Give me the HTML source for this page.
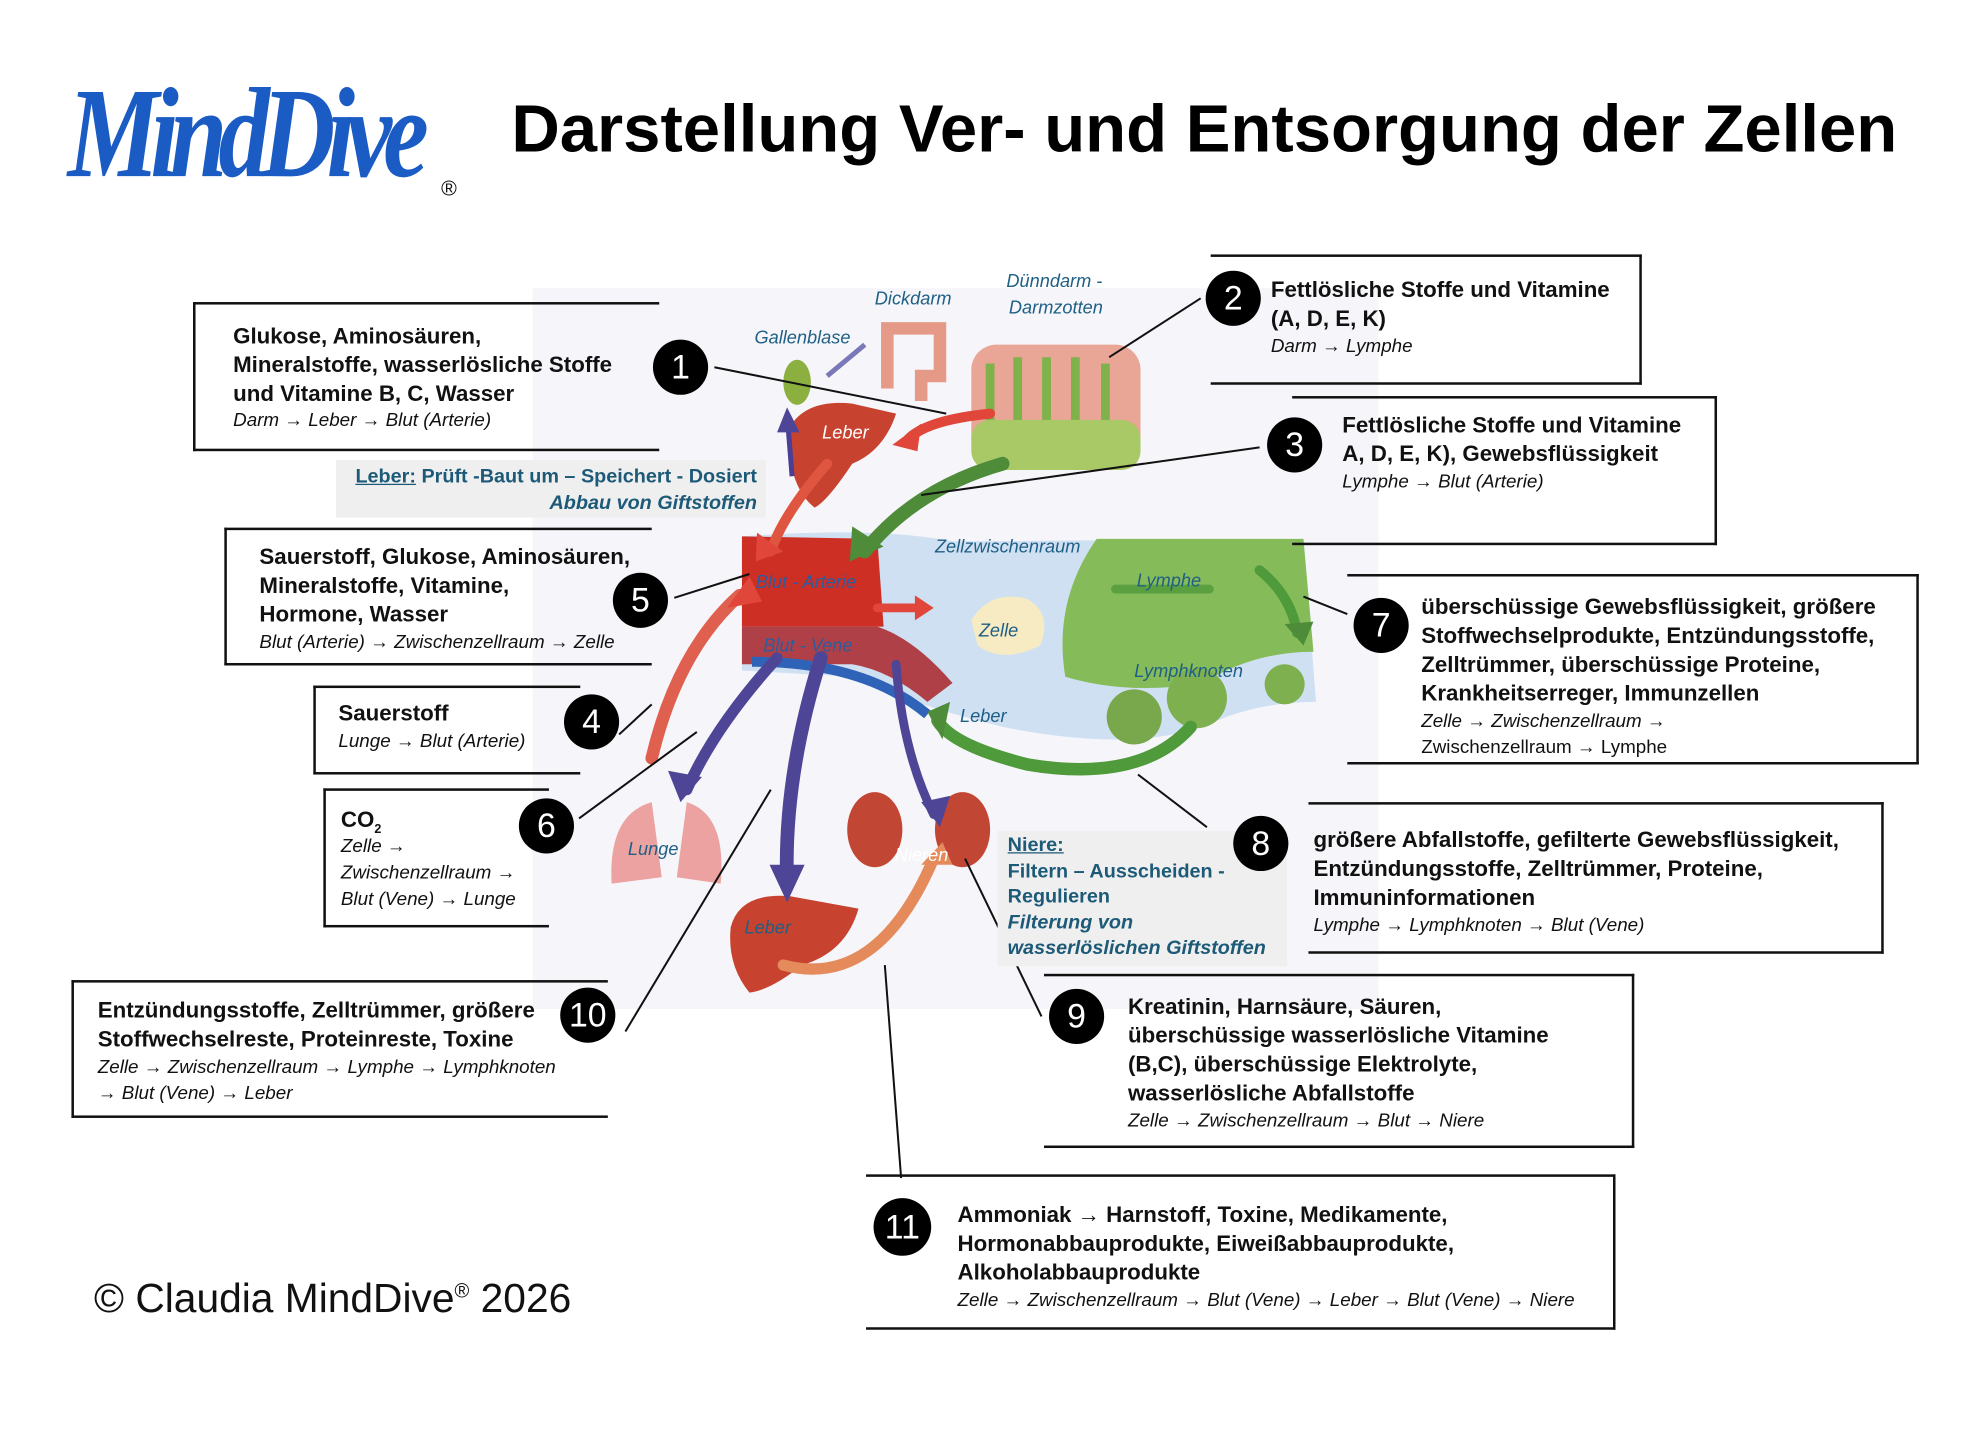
<!DOCTYPE html>
<html><head><meta charset="utf-8">
<style>
html,body{margin:0;padding:0;background:#fff;}
body{width:1965px;height:1436px;overflow:hidden;position:relative;}
#w{position:absolute;left:0;top:0;width:1560px;height:1140px;transform:scale(1.2533);transform-origin:0 0;font-family:"Liberation Sans",sans-serif;}
.a{position:absolute;white-space:nowrap;}
.b{font-weight:bold;font-size:17.8px;color:#111;line-height:23px;}
.i{font-style:italic;font-size:15px;color:#111;line-height:21px;}
.box{position:absolute;border-top:2px solid #111;border-bottom:2px solid #111;box-sizing:border-box;}
.L{border-left:2px solid #111;}
.R{border-right:2px solid #111;}
.c{position:absolute;width:44px;height:44px;border-radius:50%;background:#000;color:#fff;font-size:27px;text-align:center;line-height:44px;font-weight:normal;}
.lab{position:absolute;white-space:nowrap;font-style:italic;font-size:14.5px;color:#1f5f85;}
.t{color:#1d5a78;font-size:15.8px;font-weight:bold;line-height:20.5px;}
</style></head><body><div id="w">

<div class="a" style="left:54px;top:48px;font-family:'Liberation Serif',serif;font-style:italic;font-weight:bold;font-size:82px;color:#1a5bc4;letter-spacing:-7px;transform:scaleY(1.25);transform-origin:0 0;">MindDive</div>
<div class="a" style="left:352px;top:141px;font-size:17px;color:#111;">®</div>
<div class="a" style="left:408px;top:73px;font-weight:bold;font-size:53.5px;color:#000;">Darstellung Ver- und Entsorgung der Zellen</div>

<svg style="position:absolute;left:0;top:0" width="1560" height="1140">
<rect x="425" y="230" width="675" height="575" fill="#f6f6fa"/>
<rect x="775" y="275" width="135" height="95" rx="20" fill="#e9a596"/>
<path d="M790 290 v60 M812 285 v70 M835 285 v70 M858 285 v70 M882 290 v60" stroke="#7fb24a" stroke-width="7"/>
<rect x="775" y="335" width="135" height="40" rx="15" fill="#a9c866"/>
<path d="M708 310 V262 H750 V300 H735 V320" fill="none" stroke="#e59a88" stroke-width="10"/>
<ellipse cx="636" cy="305" rx="11" ry="18" fill="#8bb040"/>
<path d="M660 300 L690 275" stroke="#7a78b8" stroke-width="4"/>
<path d="M628 345 Q640 318 680 322 L715 330 Q705 360 680 370 Q660 400 650 405 Q630 390 628 345Z" fill="#c7432f"/>
<path d="M632 380 L628 330" stroke="#4b3f95" stroke-width="4"/>
<path d="M592 428 Q700 420 760 432 L1040 430 L1050 560 Q1000 560 960 580 Q900 600 800 580 Q720 560 680 540 L592 535Z" fill="#cfe0f3"/>
<path d="M592 428 L700 430 L705 500 L592 500Z" fill="#cd2f25"/>
<path d="M592 500 L700 500 Q730 510 760 545 L740 560 Q710 535 680 530 L592 530Z" fill="#b04048"/>
<path d="M600 528 Q690 528 740 570" stroke="#2f63b8" stroke-width="8" fill="none"/>
<path d="M875 430 L1040 430 L1048 520 Q1000 520 960 545 Q900 555 850 540 Q840 480 875 430Z" fill="#86bb5a"/>
<path d="M775 495 Q790 470 820 478 Q840 490 830 515 Q800 530 780 515Z" fill="#f7ebc3"/>
<circle cx="905" cy="572" r="22" fill="#79a84c"/><circle cx="955" cy="557" r="24" fill="#7fb050"/><circle cx="1025" cy="546" r="16" fill="#7fb050"/>
<path d="M488 705 Q485 650 520 640 L528 700Z M540 700 L548 640 Q580 650 575 705Z" fill="#eba2a0"/>
<ellipse cx="698" cy="662" rx="22" ry="30" fill="#c24634"/><ellipse cx="768" cy="662" rx="22" ry="30" fill="#c24634"/>
<path d="M583 740 Q590 712 630 715 L685 725 Q675 760 640 770 Q615 790 598 792 Q580 770 583 740Z" fill="#c7432f"/>
<g fill="none" stroke-linecap="round">
<path d="M790 330 Q740 335 725 350" stroke="#e0463a" stroke-width="8"/>
<path d="M660 370 Q625 410 615 440" stroke="#e0553f" stroke-width="8"/>
<path d="M800 370 Q730 390 690 440" stroke="#4f8c3a" stroke-width="11"/>
<path d="M520 605 Q540 520 590 475" stroke="#e06050" stroke-width="10"/>
<path d="M620 525 Q570 580 548 630" stroke="#4f4596" stroke-width="9"/>
<path d="M655 525 Q625 620 628 705" stroke="#4f4596" stroke-width="11"/>
<path d="M715 530 Q720 600 745 650" stroke="#4f4596" stroke-width="7"/>
<path d="M950 580 Q910 625 820 610 Q760 595 748 575" stroke="#4f9a3a" stroke-width="10"/>
<path d="M1005 455 Q1030 475 1035 505" stroke="#4f9a3a" stroke-width="8"/>
<path d="M625 770 Q700 790 745 685" stroke="#e58a5a" stroke-width="9"/>
<path d="M700 485 L735 485" stroke="#e0463a" stroke-width="7"/>
<path d="M890 470 L965 470" stroke="#5aa040" stroke-width="7"/>
</g>
<g fill="#e0463a"><polygon points="712,355 735,338 732,360"/><polygon points="603,448 604,425 625,440"/><polygon points="598,460 580,485 608,480"/><polygon points="745,485 730,475 730,495"/></g>
<g fill="#4f8c3a"><polygon points="678,448 680,420 705,436"/><polygon points="740,568 758,560 752,590"/><polygon points="1040,515 1025,498 1048,496"/></g>
<g fill="#4f4596"><polygon points="543,640 533,615 560,620"/><polygon points="628,720 614,690 642,690"/><polygon points="750,660 735,640 758,635"/><polygon points="628,325 620,345 638,345"/></g>
<polygon points="752,672 735,690 760,690" fill="#e58a5a"/>
<g stroke="#111" stroke-width="1.6" fill="none">
<line x1="570" y1="293" x2="755" y2="330"/><line x1="958" y1="238" x2="885" y2="285"/>
<line x1="1005" y1="357" x2="735" y2="395"/><line x1="538" y1="477" x2="598" y2="458"/>
<line x1="494" y1="586" x2="520" y2="562"/><line x1="462" y1="653" x2="556" y2="584"/>
<line x1="1075" y1="490" x2="1040" y2="476"/><line x1="963" y1="660" x2="908" y2="618"/>
<line x1="831" y1="811" x2="770" y2="685"/><line x1="499" y1="823" x2="615" y2="630"/>
<line x1="719" y1="940" x2="706" y2="770"/>
</g>
</svg>

<div class="lab" style="left:698px;top:231px">Dickdarm</div>
<div class="lab" style="left:803px;top:217px">Dünndarm -</div>
<div class="lab" style="left:805px;top:238px">Darmzotten</div>
<div class="lab" style="left:602px;top:262px">Gallenblase</div>
<div class="lab" style="left:656px;top:338px;color:#fff">Leber</div>
<div class="lab" style="left:746px;top:429px">Zellzwischenraum</div>
<div class="lab" style="left:603px;top:457px;color:#2a5da0">Blut - Arterie</div>
<div class="lab" style="left:907px;top:456px">Lymphe</div>
<div class="lab" style="left:781px;top:496px">Zelle</div>
<div class="lab" style="left:609px;top:508px;color:#2a5da0">Blut - Vene</div>
<div class="lab" style="left:905px;top:528px">Lymphknoten</div>
<div class="lab" style="left:766px;top:564px">Leber</div>
<div class="lab" style="left:501px;top:670px">Lunge</div>
<div class="lab" style="left:714px;top:675px;color:#fff">Nieren</div>
<div class="lab" style="left:594px;top:733px">Leber</div>

<div class="box L" style="left:154px;top:241px;width:372px;height:119px"></div>
<div class="a b" style="left:186px;top:257px">Glukose, Aminosäuren,<br>Mineralstoffe, wasserlösliche Stoffe<br>und Vitamine B, C, Wasser</div>
<div class="a i" style="left:186px;top:325px">Darm → Leber → Blut (Arterie)</div>
<div class="c" style="left:521px;top:271px">1</div>

<div class="a" style="left:268px;top:367px;width:343px;height:46px;background:#efefef"></div>
<div class="a t" style="left:268px;top:371px;width:336px;text-align:right"><span style="text-decoration:underline">Leber:</span> Prüft -Baut um – Speichert - Dosiert<br><i>Abbau von Giftstoffen</i></div>

<div class="box R" style="left:966px;top:203px;width:344px;height:104px"></div>
<div class="a b" style="left:1014px;top:220px">Fettlösliche Stoffe und Vitamine<br>(A, D, E, K)</div>
<div class="a i" style="left:1014px;top:266px">Darm → Lymphe</div>
<div class="c" style="left:962px;top:216px">2</div>

<div class="box R" style="left:1031px;top:316px;width:339px;height:119px"></div>
<div class="a b" style="left:1071px;top:328px">Fettlösliche Stoffe und Vitamine<br>A, D, E, K), Gewebsflüssigkeit</div>
<div class="a i" style="left:1071px;top:374px">Lymphe → Blut (Arterie)</div>
<div class="c" style="left:1011px;top:333px">3</div>

<div class="box L" style="left:179px;top:421px;width:341px;height:110px"></div>
<div class="a b" style="left:207px;top:433px">Sauerstoff, Glukose, Aminosäuren,<br>Mineralstoffe, Vitamine,<br>Hormone, Wasser</div>
<div class="a i" style="left:207px;top:502px">Blut (Arterie) → Zwischenzellraum → Zelle</div>
<div class="c" style="left:489px;top:457px">5</div>

<div class="box L" style="left:250px;top:547px;width:213px;height:71px"></div>
<div class="a b" style="left:270px;top:558px">Sauerstoff</div>
<div class="a i" style="left:270px;top:581px">Lunge → Blut (Arterie)</div>
<div class="c" style="left:450px;top:554px">4</div>

<div class="box L" style="left:258px;top:629px;width:180px;height:111px"></div>
<div class="a b" style="left:272px;top:643px">CO<sub style="font-size:10px">2</sub></div>
<div class="a i" style="left:272px;top:665px">Zelle →<br>Zwischenzellraum →<br>Blut (Vene) → Lunge</div>
<div class="c" style="left:414px;top:637px">6</div>

<div class="box R" style="left:1075px;top:458px;width:456px;height:152px"></div>
<div class="a b" style="left:1134px;top:473px">überschüssige Gewebsflüssigkeit, größere<br>Stoffwechselprodukte, Entzündungsstoffe,<br>Zelltrümmer, überschüssige Proteine,<br>Krankheitserreger, Immunzellen</div>
<div class="a i" style="left:1134px;top:565px">Zelle → Zwischenzellraum →<br><span style="font-style:normal">Zwischenzellraum → Lymphe</span></div>
<div class="c" style="left:1080px;top:477px">7</div>

<div class="a" style="left:796px;top:663px;width:231px;height:108px;background:#efefef"></div>
<div class="a t" style="left:804px;top:665px"><span style="text-decoration:underline">Niere:</span><br>Filtern – Ausscheiden -<br>Regulieren<br><i>Filterung von<br>wasserlöslichen Giftstoffen</i></div>

<div class="box R" style="left:1044px;top:640px;width:459px;height:121px"></div>
<div class="a b" style="left:1048px;top:659px">größere Abfallstoffe, gefilterte Gewebsflüssigkeit,<br>Entzündungsstoffe, Zelltrümmer, Proteine,<br>Immuninformationen</div>
<div class="a i" style="left:1048px;top:728px">Lymphe → Lymphknoten → Blut (Vene)</div>
<div class="c" style="left:984px;top:651px">8</div>

<div class="box R" style="left:833px;top:777px;width:471px;height:139px"></div>
<div class="a b" style="left:900px;top:792px">Kreatinin, Harnsäure, Säuren,<br>überschüssige wasserlösliche Vitamine<br>(B,C), überschüssige Elektrolyte,<br>wasserlösliche Abfallstoffe</div>
<div class="a i" style="left:900px;top:884px">Zelle → Zwischenzellraum → Blut → Niere</div>
<div class="c" style="left:837px;top:789px">9</div>

<div class="box L" style="left:57px;top:782px;width:428px;height:110px"></div>
<div class="a b" style="left:78px;top:795px">Entzündungsstoffe, Zelltrümmer, größere<br>Stoffwechselreste, Proteinreste, Toxine</div>
<div class="a i" style="left:78px;top:841px">Zelle → Zwischenzellraum → Lymphe → Lymphknoten<br>→ Blut (Vene) → Leber</div>
<div class="c" style="left:447px;top:788px">10</div>

<div class="box R" style="left:691px;top:937px;width:598px;height:124px"></div>
<div class="a b" style="left:764px;top:958px">Ammoniak → Harnstoff, Toxine, Medikamente,<br>Hormonabbauprodukte, Eiweißabbauprodukte,<br>Alkoholabbauprodukte</div>
<div class="a i" style="left:764px;top:1027px">Zelle → Zwischenzellraum → Blut (Vene) → Leber → Blut (Vene) → Niere</div>
<div class="c" style="left:697px;top:956px;width:46px;height:46px;line-height:46px">11</div>

<div class="a" style="left:75px;top:1018px;font-size:32.5px;color:#111">© Claudia MindDive<sup style="font-size:16px">®</sup> 2026</div>
</div></body></html>
